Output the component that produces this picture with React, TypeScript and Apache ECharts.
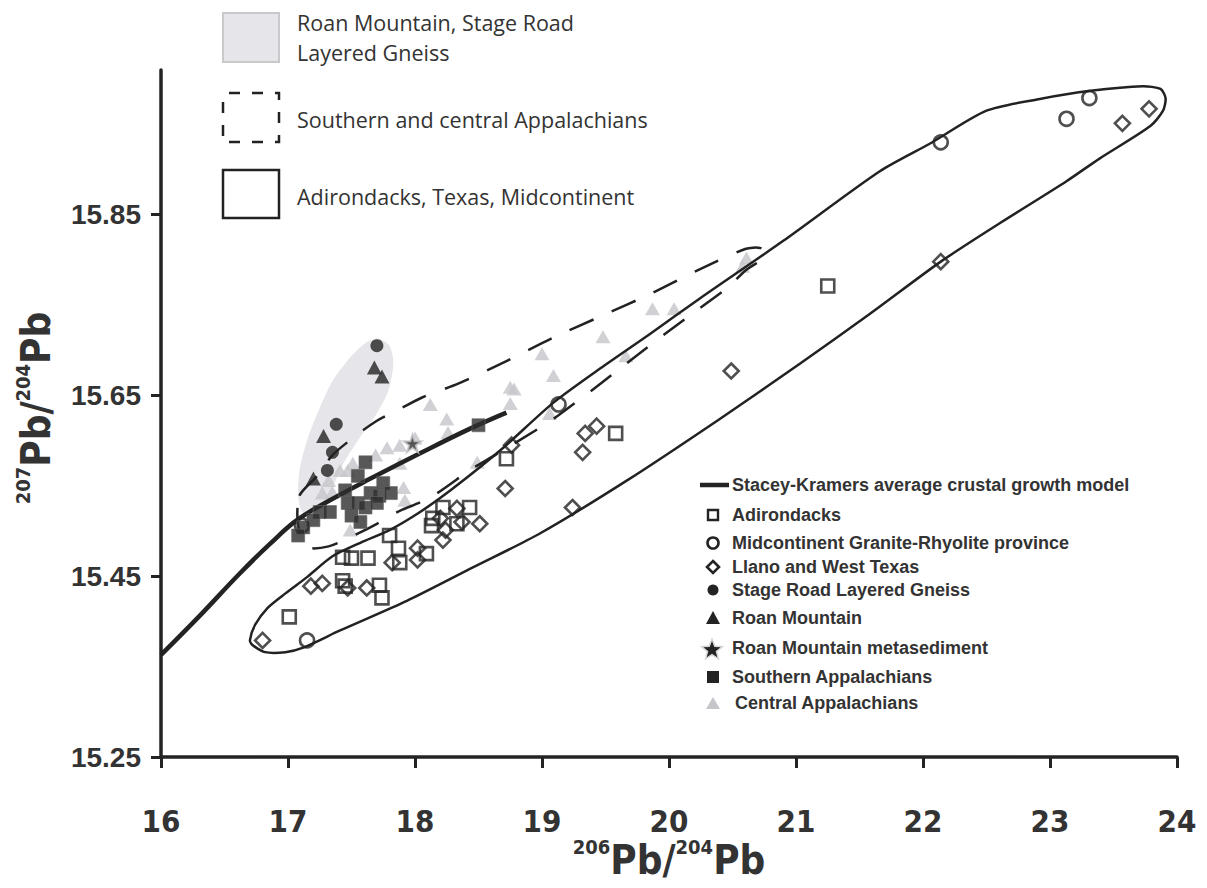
import React, { useEffect, useRef } from "react";
import * as echarts from "echarts";

// ---- axes ----
const xTicks = [16, 17, 18, 19, 20, 21, 22, 23, 24];
const yTicks = [15.25, 15.45, 15.65, 15.85];

// ---- point series: [206Pb/204Pb, 207Pb/204Pb] ----
const adirondacks: number[][] = [
  [17.01, 15.405], [17.43, 15.471], [17.5, 15.47], [17.63, 15.47], [17.43, 15.445],
  [17.45, 15.439], [17.72, 15.44], [17.74, 15.426], [17.8, 15.495], [17.87, 15.481],
  [17.88, 15.465], [18.09, 15.475], [18.14, 15.514], [18.13, 15.506], [18.22, 15.526],
  [18.43, 15.526], [18.33, 15.508], [18.72, 15.58], [19.58, 15.608], [21.25, 15.771],
];
const midcontinent: number[][] = [
  [17.15, 15.379], [17.11, 15.506], [19.13, 15.64], [22.14, 15.93], [23.13, 15.956], [23.31, 15.979],
];
const llano: number[][] = [
  [16.8, 15.379], [17.18, 15.439], [17.27, 15.442], [17.47, 15.437], [17.62, 15.437],
  [17.82, 15.465], [18.02, 15.468], [18.02, 15.481], [18.22, 15.49], [18.24, 15.501],
  [18.2, 15.514], [18.33, 15.525], [18.37, 15.51], [18.51, 15.508], [18.71, 15.547],
  [18.76, 15.595], [19.32, 15.587], [19.34, 15.608], [19.43, 15.616], [19.24, 15.526],
  [20.49, 15.677], [22.14, 15.798], [23.57, 15.951], [23.78, 15.967],
];
const stageRoad: number[][] = [[17.7, 15.705], [17.38, 15.618], [17.35, 15.587], [17.31, 15.567]];
const roanMountain: number[][] = [[17.68, 15.681], [17.74, 15.671], [17.28, 15.605], [17.2, 15.558]];
const metasediment: number[][] = [[17.98, 15.597]];
const southern: number[][] = [
  [17.61, 15.576], [17.55, 15.561], [17.45, 15.545], [17.47, 15.531], [17.55, 15.531],
  [17.5, 15.517], [17.57, 15.51], [17.65, 15.542], [17.72, 15.539], [17.75, 15.553],
  [17.81, 15.542], [17.61, 15.526], [17.7, 15.531], [17.25, 15.521], [17.33, 15.521],
  [17.2, 15.512], [17.12, 15.504], [17.08, 15.495], [18.5, 15.617],
];
const central: number[][] = [
  [18.12, 15.64], [18.0, 15.603], [17.88, 15.595], [17.78, 15.592], [17.69, 15.584],
  [17.51, 15.575], [17.47, 15.567], [17.32, 15.556], [17.35, 15.543], [17.27, 15.542],
  [17.91, 15.548], [17.92, 15.534], [17.88, 15.575], [18.25, 15.624], [18.26, 15.609],
  [18.75, 15.659], [18.78, 15.657], [18.75, 15.641], [19.0, 15.696], [19.09, 15.672],
  [19.48, 15.715], [19.66, 15.694], [19.87, 15.746], [20.04, 15.746], [20.61, 15.802],
  [20.58, 15.793], [18.49, 15.576], [19.06, 15.63], [17.49, 15.501], [17.41, 15.567],
];
// Stacey-Kramers average crustal growth curve
const staceyKramers: number[][] = [
  [16.0, 15.363], [16.31, 15.407], [16.62, 15.453], [16.86, 15.486], [17.07, 15.512],
  [17.33, 15.534], [17.65, 15.558], [18.04, 15.586], [18.43, 15.613], [18.72, 15.631],
];

// ---- envelopes ----
const envelopeSolid: number[][] = [
  [19.67, 15.556], [18.98, 15.497], [18.46, 15.46], [17.94, 15.423], [17.41, 15.39],
  [17.12, 15.371], [16.98, 15.366], [16.82, 15.366], [16.72, 15.374], [16.7, 15.379],
  [16.74, 15.396], [16.84, 15.415], [16.98, 15.431], [17.15, 15.449], [17.35, 15.472],
  [17.57, 15.487], [17.8, 15.501], [18.04, 15.521], [18.28, 15.545], [18.67, 15.589],
  [19.09, 15.642], [19.46, 15.68], [19.85, 15.718], [20.24, 15.757], [20.9, 15.821],
  [21.66, 15.898], [22.06, 15.929], [22.5, 15.965], [22.92, 15.978], [23.32, 15.987],
  [23.73, 15.992], [23.87, 15.989], [23.91, 15.979], [23.89, 15.965], [23.79, 15.948],
  [23.39, 15.912], [23.13, 15.887], [22.61, 15.841], [22.14, 15.798], [21.58, 15.74],
  [21.03, 15.685], [20.4, 15.624],
];
const envelopeDashed: number[][] = [
  [17.09, 15.539], [17.23, 15.561], [17.35, 15.584], [17.53, 15.605], [17.7, 15.622],
  [17.88, 15.635], [18.06, 15.648], [18.34, 15.663], [18.72, 15.688], [19.09, 15.714],
  [19.47, 15.738], [19.85, 15.762], [20.22, 15.788], [20.6, 15.812], [20.72, 15.813],
  [20.76, 15.804], [20.6, 15.788], [20.46, 15.769], [20.13, 15.735], [19.8, 15.7],
  [19.47, 15.664], [19.13, 15.628], [18.98, 15.614], [18.63, 15.584], [18.45, 15.569],
  [18.12, 15.537], [17.86, 15.521], [17.7, 15.508], [17.49, 15.493], [17.32, 15.483],
  [17.16, 15.482], [17.08, 15.506],
];
const envelopeGrey: number[][] = [
  [17.71, 15.713], [17.8, 15.705], [17.83, 15.686], [17.79, 15.655], [17.69, 15.628],
  [17.55, 15.6], [17.43, 15.573], [17.35, 15.548], [17.28, 15.528], [17.19, 15.517],
  [17.11, 15.521], [17.08, 15.539], [17.09, 15.567], [17.15, 15.6], [17.24, 15.633],
  [17.35, 15.666], [17.49, 15.692], [17.61, 15.708],
];

const DARK = "#232323";
const LIGHT_TRI = "#c5c6ca";
const GREY_FILL = "#e6e6ea";
const STAR_PATH =
  "path://M50,0 L61.2,34.5 L97.6,34.5 L68.2,55.9 L79.4,90.5 L50,69.1 L20.6,90.5 L31.8,55.9 L2.4,34.5 L38.8,34.5 Z";

const BOLD = '"Liberation Sans", Arial, Helvetica, sans-serif';
const NARROW = '"Liberation Sans Narrow", "Arial Narrow", "DejaVu Sans Condensed", "Liberation Sans", sans-serif';
const HUMAN = '"Open Sans", "Noto Sans", sans-serif';

function starPoints(cx: number, cy: number, R: number, r: number) {
  const pts: number[][] = [];
  for (let i = 0; i < 10; i++) {
    const a = -Math.PI / 2 + (i * Math.PI) / 5;
    const rad = i % 2 === 0 ? R : r;
    pts.push([cx + rad * Math.cos(a), cy + rad * Math.sin(a)]);
  }
  return pts;
}

function envelopeSeries(points: number[][], style: any, z: number) {
  return {
    type: "custom",
    coordinateSystem: "cartesian2d",
    silent: true,
    z,
    data: [points[0]],
    renderItem: (_p: any, api: any) => ({
      type: "polygon",
      shape: { points: points.map((pt) => api.coord(pt)), smooth: 0.25 },
      style,
    }),
  };
}

export default function App() {
  const ref = useRef<HTMLDivElement>(null);
  useEffect(() => {
    if (!ref.current) return;
    const chart = echarts.init(ref.current, null, { renderer: "svg" });

    const legendRows = [
      { y: 515, text: "Adirondacks" },
      { y: 543, text: "Midcontinent Granite-Rhyolite province" },
      { y: 567, text: "Llano and West Texas" },
      { y: 590, text: "Stage Road Layered Gneiss" },
      { y: 618, text: "Roan Mountain" },
      { y: 648, text: "Roan Mountain metasediment" },
      { y: 677, text: "Southern Appalachians" },
      { y: 703, text: "Central Appalachians", x: 735 },
    ];
    const lx = 713;
    const legendText = (x: number, y: number, text: string) => ({
      type: "text",
      style: {
        x, y, text, fill: "#333", font: `bold 18px ${BOLD}`,
        align: "left", verticalAlign: "middle",
      },
    });
    const richTitle = {
      s: { fontSize: 20, fontWeight: "bold", fontFamily: NARROW, fill: "#333", verticalAlign: "top", lineHeight: 22 },
      m: { fontSize: 40, fontWeight: "bold", fontFamily: NARROW, fill: "#333", lineHeight: 46 },
    };

    const graphic: any[] = [
      // top legend
      { type: "rect", shape: { x: 223, y: 13, width: 56, height: 49 }, style: { fill: GREY_FILL, stroke: "#c9c9cc", lineWidth: 2 } },
      { type: "rect", shape: { x: 223, y: 93, width: 56, height: 49 }, style: { fill: "none", stroke: "#222", lineWidth: 2.5, lineDash: [11, 12], lineDashOffset: -6 } },
      { type: "rect", shape: { x: 223, y: 170, width: 56, height: 48 }, style: { fill: "none", stroke: "#222", lineWidth: 2.5 } },
      { type: "text", style: { x: 297, y: 22, text: "Roan Mountain, Stage Road", fill: "#333", font: `21.5px ${HUMAN}`, align: "left", verticalAlign: "middle" } },
      { type: "text", style: { x: 297, y: 52, text: "Layered Gneiss", fill: "#333", font: `21.5px ${HUMAN}`, align: "left", verticalAlign: "middle" } },
      { type: "text", style: { x: 297, y: 119, text: "Southern and central Appalachians", fill: "#333", font: `21.5px ${HUMAN}`, align: "left", verticalAlign: "middle" } },
      { type: "text", style: { x: 297, y: 196, text: "Adirondacks, Texas, Midcontinent", fill: "#333", font: `21.5px ${HUMAN}`, align: "left", verticalAlign: "middle" } },
      // right legend symbols
      { type: "line", shape: { x1: 700, y1: 485, x2: 729, y2: 485 }, style: { stroke: DARK, lineWidth: 4.5 } },
      { type: "rect", shape: { x: lx - 5, y: 510, width: 10, height: 10 }, style: { fill: "none", stroke: DARK, lineWidth: 2.4 } },
      { type: "circle", shape: { cx: lx, cy: 543, r: 5.5 }, style: { fill: "none", stroke: DARK, lineWidth: 2.6 } },
      { type: "polygon", shape: { points: [[lx, 561], [lx + 6, 567], [lx, 573], [lx - 6, 567]] }, style: { fill: "none", stroke: DARK, lineWidth: 2.6 } },
      { type: "circle", shape: { cx: lx, cy: 590, r: 5.5 }, style: { fill: DARK } },
      { type: "polygon", shape: { points: [[lx, 611], [lx + 7, 624], [lx - 7, 624]] }, style: { fill: DARK } },
      { type: "polygon", shape: { points: starPoints(lx - 1, 650, 13, 5.5) }, style: { fill: "#d6d6da" } },
      { type: "polygon", shape: { points: starPoints(lx - 1, 650, 9, 3.8) }, style: { fill: DARK } },
      { type: "rect", shape: { x: lx - 6, y: 671, width: 12, height: 12 }, style: { fill: DARK } },
      { type: "polygon", shape: { points: [[lx, 697], [lx + 7, 709], [lx - 7, 709]] }, style: { fill: LIGHT_TRI } },
      legendText(732, 485, "Stacey-Kramers average crustal growth model"),
      ...legendRows.map((r) => legendText(r.x ?? 732, r.y, r.text)),
      // axis titles
      {
        type: "text",
        style: {
          x: 669, y: 860, text: "{s|206}{m|Pb/}{s|204}{m|Pb}",
          align: "center", verticalAlign: "middle", fill: "#333", rich: richTitle,
        },
      },
      {
        type: "text",
        x: 36, y: 408, rotation: Math.PI / 2,
        style: {
          x: 0, y: 0, text: "{s|207}{m|Pb/}{s|204}{m|Pb}",
          align: "center", verticalAlign: "middle", fill: "#333", rich: richTitle,
        },
      },
    ];

    const openStyle = { color: "rgba(0,0,0,0)", borderColor: DARK, borderWidth: 2.6 };

    chart.setOption({
      animation: false,
      backgroundColor: "#fff",
      grid: { left: 161, right: 30, top: 70, bottom: 131 },
      xAxis: {
        type: "value", min: 16, max: 24, interval: 1,
        axisLine: { lineStyle: { color: DARK, width: 3.5 } },
        axisTick: { length: 11, lineStyle: { color: DARK, width: 3 } },
        axisLabel: {
          customValues: xTicks, margin: 48, fontSize: 31, fontWeight: "bold",
          fontFamily: NARROW, color: "#333",
        },
        splitLine: { show: false },
      },
      yAxis: {
        type: "value", min: 15.25, max: 16.01, interval: 0.2,
        axisLine: { show: true, lineStyle: { color: DARK, width: 3.5 } },
        axisTick: { show: true, customValues: yTicks, length: 10, lineStyle: { color: DARK, width: 3 } },
        axisLabel: {
          customValues: yTicks, margin: 20, fontSize: 28, fontWeight: "bold",
          fontFamily: BOLD, color: "#333", formatter: (v: number) => v.toFixed(2),
        },
        splitLine: { show: false },
      },
      graphic,
      series: [
        envelopeSeries(envelopeGrey, { fill: GREY_FILL, stroke: "none" }, 1),
        {
          name: "Central Appalachians", type: "scatter", data: central, z: 2, silent: true,
          symbol: "triangle", symbolSize: [15, 13], itemStyle: { color: LIGHT_TRI },
        },
        envelopeSeries(envelopeSolid, { fill: "none", stroke: "#222", lineWidth: 2.5 }, 3),
        envelopeSeries(envelopeDashed, { fill: "none", stroke: "#222", lineWidth: 2.5, lineDash: [26, 20] }, 3),
        {
          name: "Stacey-Kramers average crustal growth model", type: "line", data: staceyKramers,
          smooth: 0.4, showSymbol: false, z: 4, silent: true,
          lineStyle: { color: DARK, width: 4.5 },
        },
        {
          name: "Adirondacks", type: "scatter", data: adirondacks, z: 5, silent: true,
          symbol: "rect", symbolSize: 13, itemStyle: openStyle,
        },
        {
          name: "Midcontinent Granite-Rhyolite province", type: "scatter", data: midcontinent, z: 5, silent: true,
          symbol: "circle", symbolSize: 14, itemStyle: openStyle,
        },
        {
          name: "Llano and West Texas", type: "scatter", data: llano, z: 5, silent: true,
          symbol: "diamond", symbolSize: 15, itemStyle: openStyle,
        },
        {
          name: "Southern Appalachians", type: "scatter", data: southern, z: 6, silent: true,
          symbol: "rect", symbolSize: 13, itemStyle: { color: "#2e2e2e", borderColor: "#666", borderWidth: 0.8 },
        },
        {
          name: "Stage Road Layered Gneiss", type: "scatter", data: stageRoad, z: 6, silent: true,
          symbol: "circle", symbolSize: 13, itemStyle: { color: DARK },
        },
        {
          name: "Roan Mountain", type: "scatter", data: roanMountain, z: 6, silent: true,
          symbol: "triangle", symbolSize: [15, 14], itemStyle: { color: DARK },
        },
        {
          name: "Roan Mountain metasediment", type: "scatter", data: metasediment, z: 6, silent: true,
          symbol: STAR_PATH, symbolSize: 18, itemStyle: { color: "#333", borderColor: "#c8c8cc", borderWidth: 2 },
        },
      ],
    });
    return () => chart.dispose();
  }, []);

  return (
    <div
      ref={ref}
      style={{ position: "fixed", left: 0, top: 0, width: 1207, height: 888, background: "#fff" }}
    />
  );
}
